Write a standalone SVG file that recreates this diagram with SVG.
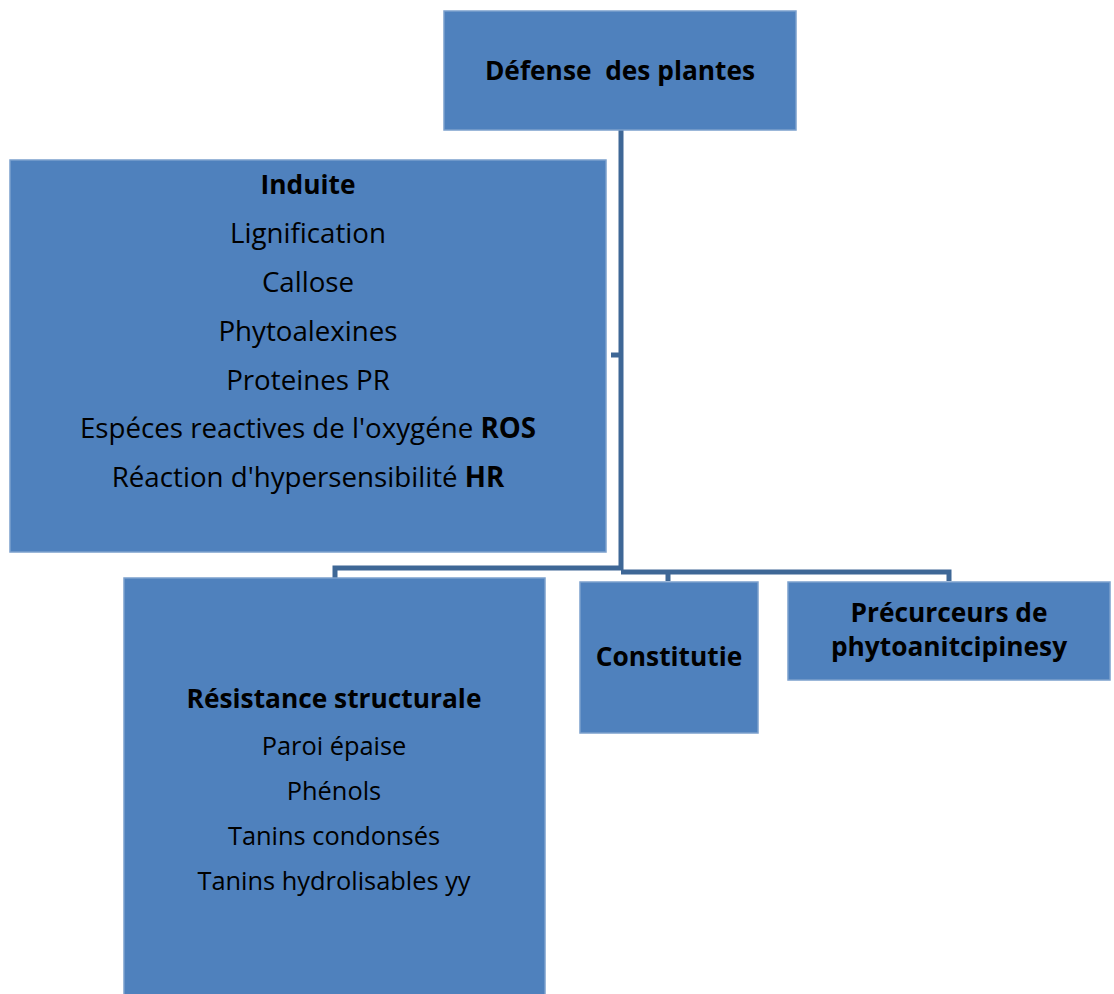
<svg xmlns="http://www.w3.org/2000/svg" width="1114" height="994" viewBox="0 0 1114 994">
<style>
.box{fill:#4F81BD;stroke:#7BA0CD;stroke-width:1.5}
.t{font-family:"Open Sans","Liberation Sans",sans-serif;fill:#000;text-anchor:middle;white-space:pre}
.b{font-weight:bold;font-size:26.3px}
.r1{font-size:27.7px}
.r2{font-size:25.4px}
.c{fill:none;stroke:#3E6796;stroke-width:5;stroke-linejoin:miter}
</style>
<rect width="1114" height="994" fill="#fff"/>
<g id="connectors">
<path class="c" d="M621,130 V570"/>
<path class="c" d="M611,355 H621"/>
<path class="c" d="M335,579 V568 H621"/>
<path class="c" d="M621,572 H949 V581"/>
<path class="c" d="M668,572 V581"/>
</g>
<g id="n-defense">
<rect class="box" x="444" y="11" width="352" height="119"/>
<text class="t b" x="620" y="80" xml:space="preserve">Défense  des plantes</text>
</g>
<g id="n-induite">
<rect class="box" x="10" y="160" width="596" height="392"/>
<text class="t b" x="308" y="194">Induite</text>
<text class="t r1" x="308" y="243">Lignification</text>
<text class="t r1" x="308" y="292">Callose</text>
<text class="t r1" x="308" y="341">Phytoalexines</text>
<text class="t r1" x="308" y="390">Proteines PR</text>
<text class="t r1" x="308" y="438">Espéces reactives de l'oxygéne <tspan font-weight="bold">ROS</tspan></text>
<text class="t r1" x="308" y="487">Réaction d'hypersensibilité <tspan font-weight="bold">HR</tspan></text>
</g>
<g id="n-resistance">
<rect class="box" x="124" y="578" width="421" height="420"/>
<text class="t b" x="334" y="708">Résistance structurale</text>
<text class="t r2" x="334" y="755">Paroi épaise</text>
<text class="t r2" x="334" y="800">Phénols</text>
<text class="t r2" x="334" y="845">Tanins condonsés</text>
<text class="t r2" x="334" y="890">Tanins hydrolisables yy</text>
</g>
<g id="n-constitutie">
<rect class="box" x="580" y="582" width="178" height="151"/>
<text class="t b" x="669" y="666">Constitutie</text>
</g>
<g id="n-precurceurs">
<rect class="box" x="788" y="582" width="322" height="98"/>
<text class="t b" x="949" y="622">Précurceurs de</text>
<text class="t b" x="949" y="656">phytoanitcipinesy</text>
</g>
</svg>
